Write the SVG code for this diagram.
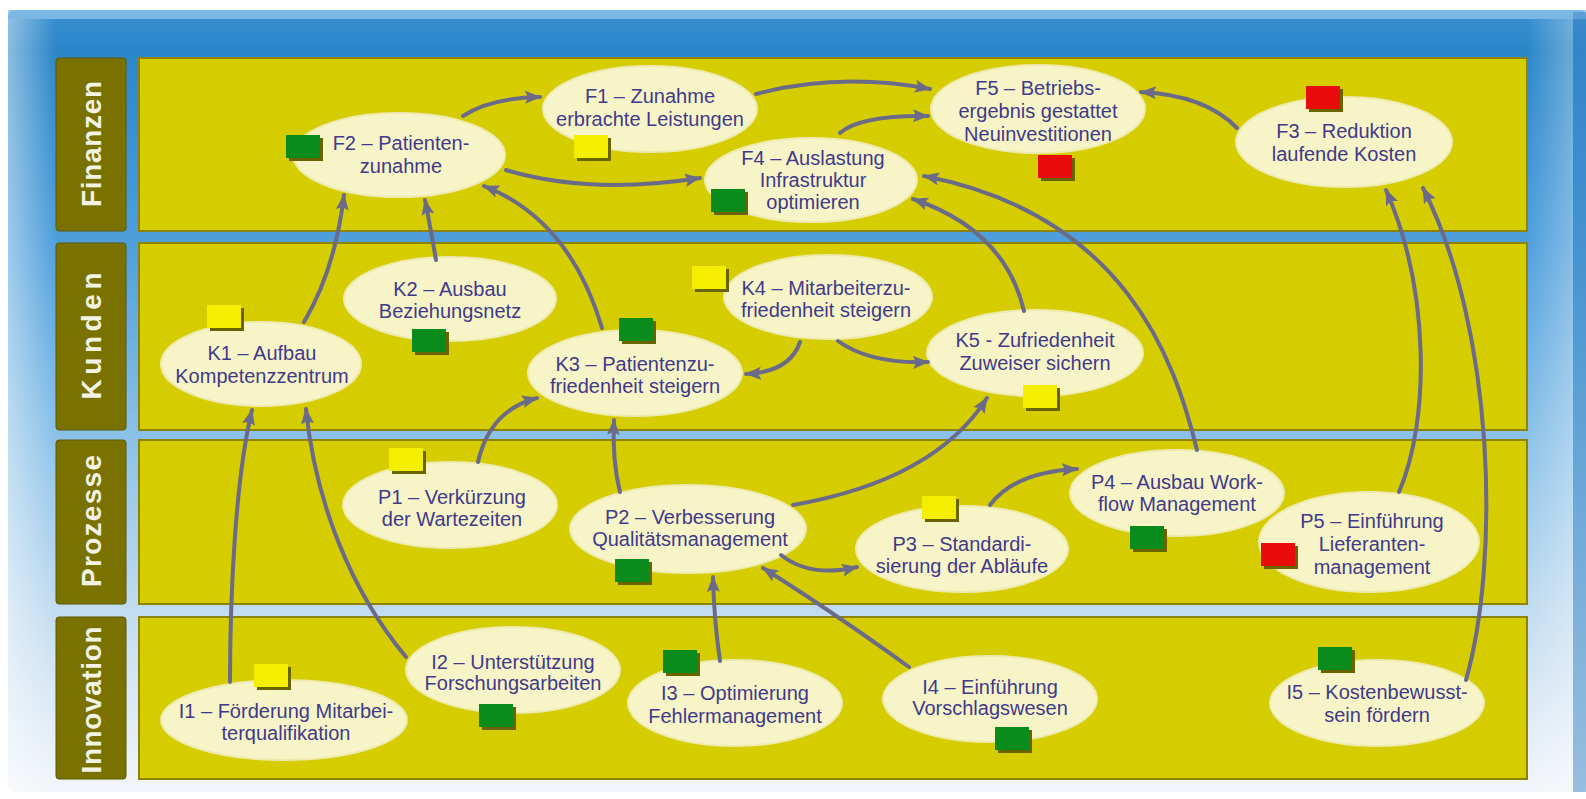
<svg xmlns="http://www.w3.org/2000/svg" width="1586" height="799" viewBox="0 0 1586 799">
<defs>
<linearGradient id="bg" x1="0" y1="0" x2="0" y2="1">
<stop offset="0" stop-color="#3a90d0"/>
<stop offset="0.05" stop-color="#2b86c8"/>
<stop offset="0.3" stop-color="#4f9fdc"/>
<stop offset="0.55" stop-color="#8cc2e8"/>
<stop offset="0.77" stop-color="#c2dcf0"/>
<stop offset="1" stop-color="#f3f6fa"/>
</linearGradient>
<linearGradient id="lft" x1="0" y1="0" x2="1" y2="0">
<stop offset="0" stop-color="#ffffff" stop-opacity="0.45"/>
<stop offset="1" stop-color="#ffffff" stop-opacity="0"/>
</linearGradient>
<linearGradient id="rgt" x1="0" y1="0" x2="1" y2="0">
<stop offset="0" stop-color="#ffffff" stop-opacity="0"/>
<stop offset="1" stop-color="#ffffff" stop-opacity="0.3"/>
</linearGradient>
<marker id="ah" markerUnits="userSpaceOnUse" markerWidth="18" markerHeight="14" refX="15" refY="6.5" orient="auto">
<path d="M0,0 L16,6.5 L0,13 L3,6.5 z" fill="#6b6a88"/>
</marker>
</defs>
<style>
.lane{fill:#d5cd00;stroke:#8c8400;stroke-width:2}
.lab{fill:#7a7200;stroke:#5e5800;stroke-width:1}
.labt{font-family:"Liberation Sans",Arial,sans-serif;font-weight:bold;font-size:28px;fill:#f4f2e4;text-anchor:middle}
.n{fill:#f7f5c8;stroke:#efeab0;stroke-width:2}
.t{font-family:"Liberation Sans",Arial,sans-serif;font-size:20px;fill:#41398a;text-anchor:middle}
.sh{fill:#6a6400}
.g{fill:#0a8c1c}
.y{fill:#f4ef00}
.r{fill:#e80c0c}
.c{fill:none;stroke:#6b6a88;stroke-width:4;stroke-linecap:round;marker-end:url(#ah)}
</style>
<rect x="0" y="0" width="1586" height="799" fill="#ffffff"/>
<rect x="8" y="10" width="1578" height="782" rx="6" fill="url(#bg)"/>
<rect x="8" y="10" width="1578" height="9" fill="#8cc2ea" opacity="0.8"/>
<rect x="8" y="19" width="48" height="773" fill="url(#lft)"/>
<rect x="1527" y="19" width="46" height="773" fill="url(#rgt)"/>
<rect x="1573" y="12" width="13" height="780" fill="#3a86c6" opacity="0.5"/>

<g id="lanes">
<rect class="lane" x="139" y="58" width="1388" height="173"/>
<rect class="lane" x="139" y="243" width="1388" height="187"/>
<rect class="lane" x="139" y="440" width="1388" height="164"/>
<rect class="lane" x="139" y="617" width="1388" height="162"/>
<rect class="lab" x="56" y="58" width="70" height="173" rx="3"/>
<rect class="lab" x="56" y="243" width="70" height="187" rx="3"/>
<rect class="lab" x="56" y="440" width="70" height="164" rx="3"/>
<rect class="lab" x="56" y="617" width="70" height="162" rx="3"/>
<text class="labt" transform="translate(101,144) rotate(-90)" textLength="126" lengthAdjust="spacing">Finanzen</text>
<text class="labt" transform="translate(101,336) rotate(-90)" textLength="127" lengthAdjust="spacing">Kunden</text>
<text class="labt" transform="translate(101,521) rotate(-90)" textLength="132" lengthAdjust="spacing">Prozesse</text>
<text class="labt" transform="translate(101,700) rotate(-90)" textLength="147" lengthAdjust="spacing">Innovation</text>
</g>

<g id="F1"><ellipse class="n" cx="650" cy="109" rx="107" ry="43"/><rect class="sh" x="577" y="138" width="34" height="23"/><rect class="y" x="574" y="135" width="34" height="23"/><text class="t"><tspan x="650" y="103">F1 – Zunahme</tspan><tspan x="650" y="126">erbrachte Leistungen</tspan></text></g>
<g id="F2"><ellipse class="n" cx="399" cy="155" rx="106" ry="42"/><rect class="sh" x="289" y="138" width="34" height="23"/><rect class="g" x="286" y="135" width="34" height="23"/><text class="t"><tspan x="401" y="150">F2 – Patienten-</tspan><tspan x="401" y="173">zunahme</tspan></text></g>
<g id="F3"><ellipse class="n" cx="1344" cy="142" rx="108" ry="45"/><rect class="sh" x="1309" y="89" width="34" height="23"/><rect class="r" x="1306" y="86" width="34" height="23"/><text class="t"><tspan x="1344" y="138">F3 – Reduktion</tspan><tspan x="1344" y="161">laufende Kosten</tspan></text></g>
<g id="F4"><ellipse class="n" cx="811" cy="180" rx="106" ry="42"/><rect class="sh" x="714" y="192" width="34" height="23"/><rect class="g" x="711" y="189" width="34" height="23"/><text class="t"><tspan x="813" y="165">F4 – Auslastung</tspan><tspan x="813" y="187">Infrastruktur</tspan><tspan x="813" y="209">optimieren</tspan></text></g>
<g id="F5"><ellipse class="n" cx="1038" cy="109" rx="107" ry="44"/><rect class="sh" x="1041" y="158" width="34" height="23"/><rect class="r" x="1038" y="155" width="34" height="23"/><text class="t"><tspan x="1038" y="95">F5 – Betriebs-</tspan><tspan x="1038" y="118">ergebnis gestattet</tspan><tspan x="1038" y="141">Neuinvestitionen</tspan></text></g>

<g id="K1"><ellipse class="n" cx="261" cy="364" rx="100" ry="42"/><rect class="sh" x="210" y="308" width="34" height="23"/><rect class="y" x="207" y="305" width="34" height="23"/><text class="t"><tspan x="262" y="360">K1 – Aufbau</tspan><tspan x="262" y="383">Kompetenzzentrum</tspan></text></g>
<g id="K2"><ellipse class="n" cx="450" cy="299" rx="106" ry="42"/><rect class="sh" x="415" y="332" width="34" height="23"/><rect class="g" x="412" y="329" width="34" height="23"/><text class="t"><tspan x="450" y="296">K2 – Ausbau</tspan><tspan x="450" y="318">Beziehungsnetz</tspan></text></g>
<g id="K3"><ellipse class="n" cx="635" cy="373" rx="107" ry="43"/><rect class="sh" x="622" y="321" width="34" height="23"/><rect class="g" x="619" y="318" width="34" height="23"/><text class="t"><tspan x="635" y="371">K3 – Patientenzu-</tspan><tspan x="635" y="393">friedenheit steigern</tspan></text></g>
<g id="K4"><ellipse class="n" cx="828" cy="297" rx="104" ry="42"/><rect class="sh" x="695" y="269" width="34" height="23"/><rect class="y" x="692" y="266" width="34" height="23"/><text class="t"><tspan x="826" y="295">K4 – Mitarbeiterzu-</tspan><tspan x="826" y="317">friedenheit steigern</tspan></text></g>
<g id="K5"><ellipse class="n" cx="1035" cy="353" rx="108" ry="43"/><rect class="sh" x="1026" y="388" width="34" height="23"/><rect class="y" x="1023" y="385" width="34" height="23"/><text class="t"><tspan x="1035" y="347">K5 - Zufriedenheit</tspan><tspan x="1035" y="370">Zuweiser sichern</tspan></text></g>

<g id="P1"><ellipse class="n" cx="450" cy="505" rx="107" ry="43"/><rect class="sh" x="392" y="451" width="34" height="23"/><rect class="y" x="389" y="448" width="34" height="23"/><text class="t"><tspan x="452" y="504">P1 – Verkürzung</tspan><tspan x="452" y="526">der Wartezeiten</tspan></text></g>
<g id="P2"><ellipse class="n" cx="688" cy="529" rx="118" ry="44"/><rect class="sh" x="618" y="562" width="34" height="23"/><rect class="g" x="615" y="559" width="34" height="23"/><text class="t"><tspan x="690" y="524">P2 – Verbesserung</tspan><tspan x="690" y="546">Qualitätsmanagement</tspan></text></g>
<g id="P3"><ellipse class="n" cx="962" cy="549" rx="106" ry="43"/><rect class="sh" x="925" y="499" width="34" height="23"/><rect class="y" x="922" y="496" width="34" height="23"/><text class="t"><tspan x="962" y="551">P3 – Standardi-</tspan><tspan x="962" y="573">sierung der Abläufe</tspan></text></g>
<g id="P4"><ellipse class="n" cx="1177" cy="493" rx="107" ry="43"/><rect class="sh" x="1133" y="529" width="34" height="23"/><rect class="g" x="1130" y="526" width="34" height="23"/><text class="t"><tspan x="1177" y="489">P4 – Ausbau Work-</tspan><tspan x="1177" y="511">flow Management</tspan></text></g>
<g id="P5"><ellipse class="n" cx="1369" cy="542" rx="110" ry="50"/><rect class="sh" x="1264" y="546" width="34" height="23"/><rect class="r" x="1261" y="543" width="34" height="23"/><text class="t"><tspan x="1372" y="528">P5 – Einführung</tspan><tspan x="1372" y="551">Lieferanten-</tspan><tspan x="1372" y="574">management</tspan></text></g>

<g id="I1"><ellipse class="n" cx="284" cy="720" rx="123" ry="40"/><rect class="sh" x="257" y="667" width="34" height="23"/><rect class="y" x="254" y="664" width="34" height="23"/><text class="t"><tspan x="286" y="718">I1 – Förderung Mitarbei-</tspan><tspan x="286" y="740">terqualifikation</tspan></text></g>
<g id="I2"><ellipse class="n" cx="513" cy="670" rx="107" ry="43"/><rect class="sh" x="482" y="707" width="34" height="23"/><rect class="g" x="479" y="704" width="34" height="23"/><text class="t"><tspan x="513" y="669">I2 – Unterstützung</tspan><tspan x="513" y="690">Forschungsarbeiten</tspan></text></g>
<g id="I3"><ellipse class="n" cx="735" cy="703" rx="107" ry="43"/><rect class="sh" x="666" y="653" width="34" height="23"/><rect class="g" x="663" y="650" width="34" height="23"/><text class="t"><tspan x="735" y="700">I3 – Optimierung</tspan><tspan x="735" y="723">Fehlermanagement</tspan></text></g>
<g id="I4"><ellipse class="n" cx="990" cy="699" rx="107" ry="43"/><rect class="sh" x="998" y="730" width="34" height="23"/><rect class="g" x="995" y="727" width="34" height="23"/><text class="t"><tspan x="990" y="694">I4 – Einführung</tspan><tspan x="990" y="715">Vorschlagswesen</tspan></text></g>
<g id="I5"><ellipse class="n" cx="1377" cy="703" rx="107" ry="43"/><rect class="sh" x="1321" y="650" width="34" height="23"/><rect class="g" x="1318" y="647" width="34" height="23"/><text class="t"><tspan x="1377" y="699">I5 – Kostenbewusst-</tspan><tspan x="1377" y="722">sein fördern</tspan></text></g>

<g id="connectors">
<path class="c" d="M463,116 Q490,98 540,97"/>
<path class="c" d="M506,170 Q590,195 700,178"/>
<path class="c" d="M756,94 Q840,72 930,89"/>
<path class="c" d="M840,133 Q860,115 928,116"/>
<path class="c" d="M1237,128 Q1205,95 1141,92"/>
<path class="c" d="M304,322 Q335,270 344,195"/>
<path class="c" d="M436,260 Q430,225 425,200"/>
<path class="c" d="M602,328 Q570,220 484,186"/>
<path class="c" d="M800,342 Q790,372 746,374"/>
<path class="c" d="M838,341 Q870,364 928,362"/>
<path class="c" d="M1024,311 Q1005,230 913,199"/>
<path class="c" d="M1197,450 C1175,360 1125,215 924,176"/>
<path class="c" d="M1399,492 C1430,420 1430,290 1386,190"/>
<path class="c" d="M1466,680 C1500,560 1495,330 1423,188"/>
<path class="c" d="M478,462 Q490,410 537,398"/>
<path class="c" d="M620,492 Q612,460 614,420"/>
<path class="c" d="M793,505 Q935,480 987,398"/>
<path class="c" d="M781,555 Q810,578 857,567"/>
<path class="c" d="M990,505 Q1015,472 1077,469"/>
<path class="c" d="M230,682 C230,600 235,480 252,410"/>
<path class="c" d="M406,657 C350,590 315,500 306,409"/>
<path class="c" d="M720,661 Q714,620 713,577"/>
<path class="c" d="M909,667 Q830,610 763,568"/>
</g>
</svg>
